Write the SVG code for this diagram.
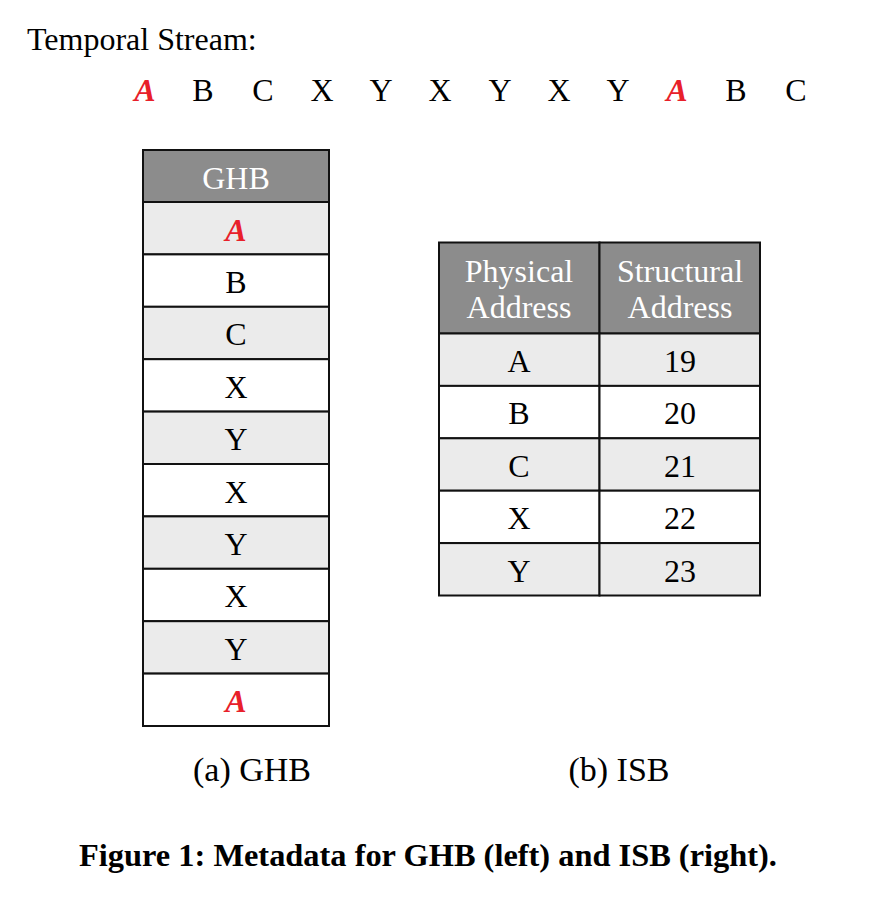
<svg xmlns="http://www.w3.org/2000/svg" width="875" height="898" viewBox="0 0 875 898">
<style>
text{font-family:"Liberation Serif","Times New Roman",serif;font-size:32px;fill:#000}
.c{text-anchor:middle}
.r{fill:#e8202a;font-style:italic;font-weight:bold}
.w{fill:#fff}
.hd{fill:#8c8c8c}
.lt{fill:#ebebeb}
.wh{fill:#fff}
.cell{stroke:#111;stroke-width:2}
.sub{font-size:34px}
.b{font-weight:bold;font-size:32.4px}
</style>
<rect width="875" height="898" fill="#fff"/>
<g id="stream">
<text x="27" y="50">Temporal Stream:</text>
<text class="c r" x="145" y="101">A</text>
<text class="c" x="203" y="101">B</text>
<text class="c" x="263" y="101">C</text>
<text class="c" x="322" y="101">X</text>
<text class="c" x="381" y="101">Y</text>
<text class="c" x="440" y="101">X</text>
<text class="c" x="500" y="101">Y</text>
<text class="c" x="559" y="101">X</text>
<text class="c" x="618" y="101">Y</text>
<text class="c r" x="677" y="101">A</text>
<text class="c" x="736" y="101">B</text>
<text class="c" x="796" y="101">C</text>
</g>
<g id="ghb">
<rect class="cell hd" x="143" y="150" width="186" height="52"/>
<rect class="cell lt" x="143" y="202" width="186" height="52.4"/>
<rect class="cell wh" x="143" y="254.4" width="186" height="52.4"/>
<rect class="cell lt" x="143" y="306.8" width="186" height="52.4"/>
<rect class="cell wh" x="143" y="359.2" width="186" height="52.4"/>
<rect class="cell lt" x="143" y="411.6" width="186" height="52.4"/>
<rect class="cell wh" x="143" y="464" width="186" height="52.4"/>
<rect class="cell lt" x="143" y="516.4" width="186" height="52.4"/>
<rect class="cell wh" x="143" y="568.8" width="186" height="52.4"/>
<rect class="cell lt" x="143" y="621.2" width="186" height="52.4"/>
<rect class="cell wh" x="143" y="673.6" width="186" height="52.4"/>
<text class="c w" x="236" y="189">GHB</text>
<text class="c r" x="236" y="241">A</text>
<text class="c" x="236" y="293">B</text>
<text class="c" x="236" y="345">C</text>
<text class="c" x="236" y="398">X</text>
<text class="c" x="236" y="450">Y</text>
<text class="c" x="236" y="503">X</text>
<text class="c" x="236" y="555">Y</text>
<text class="c" x="236" y="607">X</text>
<text class="c" x="236" y="660">Y</text>
<text class="c r" x="236" y="712">A</text>
</g>
<g id="isb">
<rect class="cell hd" x="439" y="242.5" width="160.5" height="91"/>
<rect class="cell hd" x="599.5" y="242.5" width="160.5" height="91"/>
<rect class="cell lt" x="439" y="333.5" width="160.5" height="52.4"/>
<rect class="cell lt" x="599.5" y="333.5" width="160.5" height="52.4"/>
<rect class="cell wh" x="439" y="385.9" width="160.5" height="52.4"/>
<rect class="cell wh" x="599.5" y="385.9" width="160.5" height="52.4"/>
<rect class="cell lt" x="439" y="438.3" width="160.5" height="52.4"/>
<rect class="cell lt" x="599.5" y="438.3" width="160.5" height="52.4"/>
<rect class="cell wh" x="439" y="490.7" width="160.5" height="52.4"/>
<rect class="cell wh" x="599.5" y="490.7" width="160.5" height="52.4"/>
<rect class="cell lt" x="439" y="543.1" width="160.5" height="52.4"/>
<rect class="cell lt" x="599.5" y="543.1" width="160.5" height="52.4"/>
<text class="c w" x="519" y="282">Physical</text>
<text class="c w" x="519" y="318">Address</text>
<text class="c w" x="680" y="282">Structural</text>
<text class="c w" x="680" y="318">Address</text>
<text class="c" x="519" y="372">A</text>
<text class="c" x="680" y="372">19</text>
<text class="c" x="519" y="424">B</text>
<text class="c" x="680" y="424">20</text>
<text class="c" x="519" y="477">C</text>
<text class="c" x="680" y="477">21</text>
<text class="c" x="519" y="529">X</text>
<text class="c" x="680" y="529">22</text>
<text class="c" x="519" y="582">Y</text>
<text class="c" x="680" y="582">23</text>
</g>
<g id="captions">
<text class="c sub" x="252" y="781">(a) GHB</text>
<text class="c sub" x="619" y="781">(b) ISB</text>
<text class="c b" x="428" y="866">Figure 1: Metadata for GHB (left) and ISB (right).</text>
</g>
</svg>
